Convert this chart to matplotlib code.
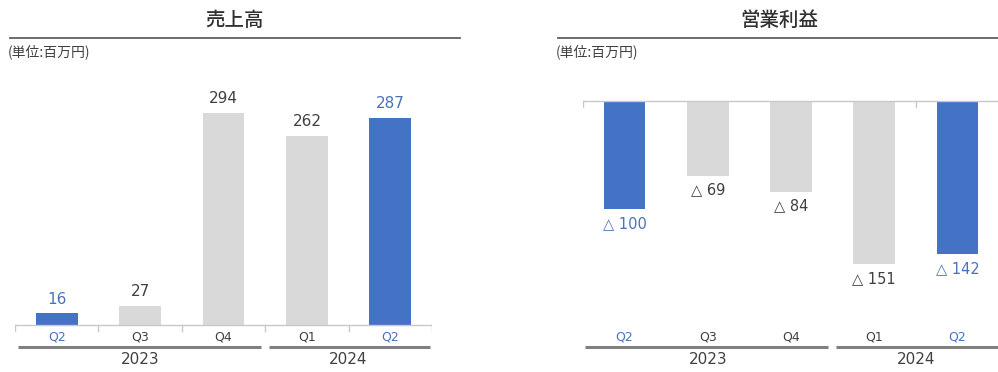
import matplotlib.pyplot as plt

plt.rcParams['font.family'] = ['Noto Sans CJK JP', 'DejaVu Sans']
NUM_FONT = ['DejaVu Sans', 'Noto Sans CJK JP']

quarters = ["Q2", "Q3", "Q4", "Q1", "Q2"]
years = ["2023", "2024"]
year_spans = [(0, 2), (3, 4)]
sales = [16, 27, 294, 262, 287]
op_profit = [-100, -69, -84, -151, -142]
highlight = [True, False, False, False, True]

BLUE = "#4472C4"
GRAY = "#D9D9D9"
TXT = "#404040"
TXT_BLUE = "#4A72B8"
LINE = "#808080"

W, H = 998, 372
fig = plt.figure(figsize=(W / 100, H / 100), dpi=100)


def px_axes(x0, x1, y0, y1):
    # axes placed by pixel box (y measured from top)
    return fig.add_axes([x0 / W, 1 - y1 / H, (x1 - x0) / W, (y1 - y0) / H])


def header(x0, x1, title):
    fig.text(((x0 + x1) / 2) / W, 1 - 20 / H, title, ha="center", va="center",
             fontsize=14, fontweight="medium", color="#303030")
    fig.add_artist(plt.Line2D([x0 / W, x1 / W], [1 - 38 / H, 1 - 38 / H],
                              color="#606060", lw=1.3))
    fig.text((x0 - 2) / W, 1 - 52 / H, "(単位:百万円)", ha="left", va="center",
             fontsize=10, color=TXT)


def bottom_axis(ax, cat_y, line_y, year_y, x_right):
    for i, q in enumerate(quarters):
        ax.text(i, cat_y, q, ha="center", va="center", fontsize=9,
                family=NUM_FONT, color=TXT_BLUE if highlight[i] else TXT)
    for (a, b), yr in zip(year_spans, years):
        lo = a - 0.46 if a > 0 else a - 0.47
        hi = b + 0.45 if b < 4 else x_right
        ax.plot([lo, hi], [line_y, line_y], color=LINE, lw=2.2,
                solid_capstyle="butt", clip_on=False)
        ax.text((a + b) / 2, year_y, yr, ha="center", va="center",
                fontsize=11, family=NUM_FONT, color=TXT)


colors = [BLUE if h else GRAY for h in highlight]
x = list(range(len(quarters)))

# 売上高
header(10, 460, "売上高")
ax1 = px_axes(15, 432, 60, 372)
s1 = 0.72
ax1.set_xlim(-0.5, 4.5)
ax1.set_ylim(-(372 - 325) / s1, (325 - 60) / s1)
ax1.bar(x, sales, width=0.5, color=colors)
ax1.axhline(0, color="#C8C8C8", lw=1)
for b in [-0.5, 0.5, 1.5, 2.5, 3.5, 4.5]:
    ax1.plot([b, b], [0, -6 / s1], color="#C8C8C8", lw=1)
for i, v in enumerate(sales):
    ax1.annotate(str(v), (i, v), xytext=(0, 5), textcoords="offset points",
                 ha="center", va="bottom", fontsize=11, family=NUM_FONT,
                 color=TXT_BLUE if highlight[i] else TXT)
bottom_axis(ax1, -(337 - 325) / s1, -(347 - 325) / s1, -(360 - 325) / s1, 4.48)
ax1.axis("off")

# 営業利益
header(558, 1000, "営業利益")
ax2 = px_axes(583, 999, 60, 372)
s2 = 1.08
ax2.set_xlim(-0.5, 4.5)
ax2.set_ylim(-(372 - 101) / s2, (101 - 60) / s2)
ax2.bar(x, op_profit, width=0.5, color=colors)
ax2.axhline(0, color="#C8C8C8", lw=1)
for b in [-0.5, 3.5]:
    ax2.plot([b, b], [0, -6 / s2], color="#C8C8C8", lw=1)
for i, v in enumerate(op_profit):
    ax2.annotate("△ {}".format(-v), (i, v), xytext=(0, -5), textcoords="offset points",
                 ha="center", va="top", fontsize=10.5, family=NUM_FONT,
                 color=TXT_BLUE if highlight[i] else TXT)
bottom_axis(ax2, -(337 - 101) / s2, -(347 - 101) / s2, -(360 - 101) / s2, 4.6)
ax2.axis("off")

fig.savefig("out.png", dpi=100)
